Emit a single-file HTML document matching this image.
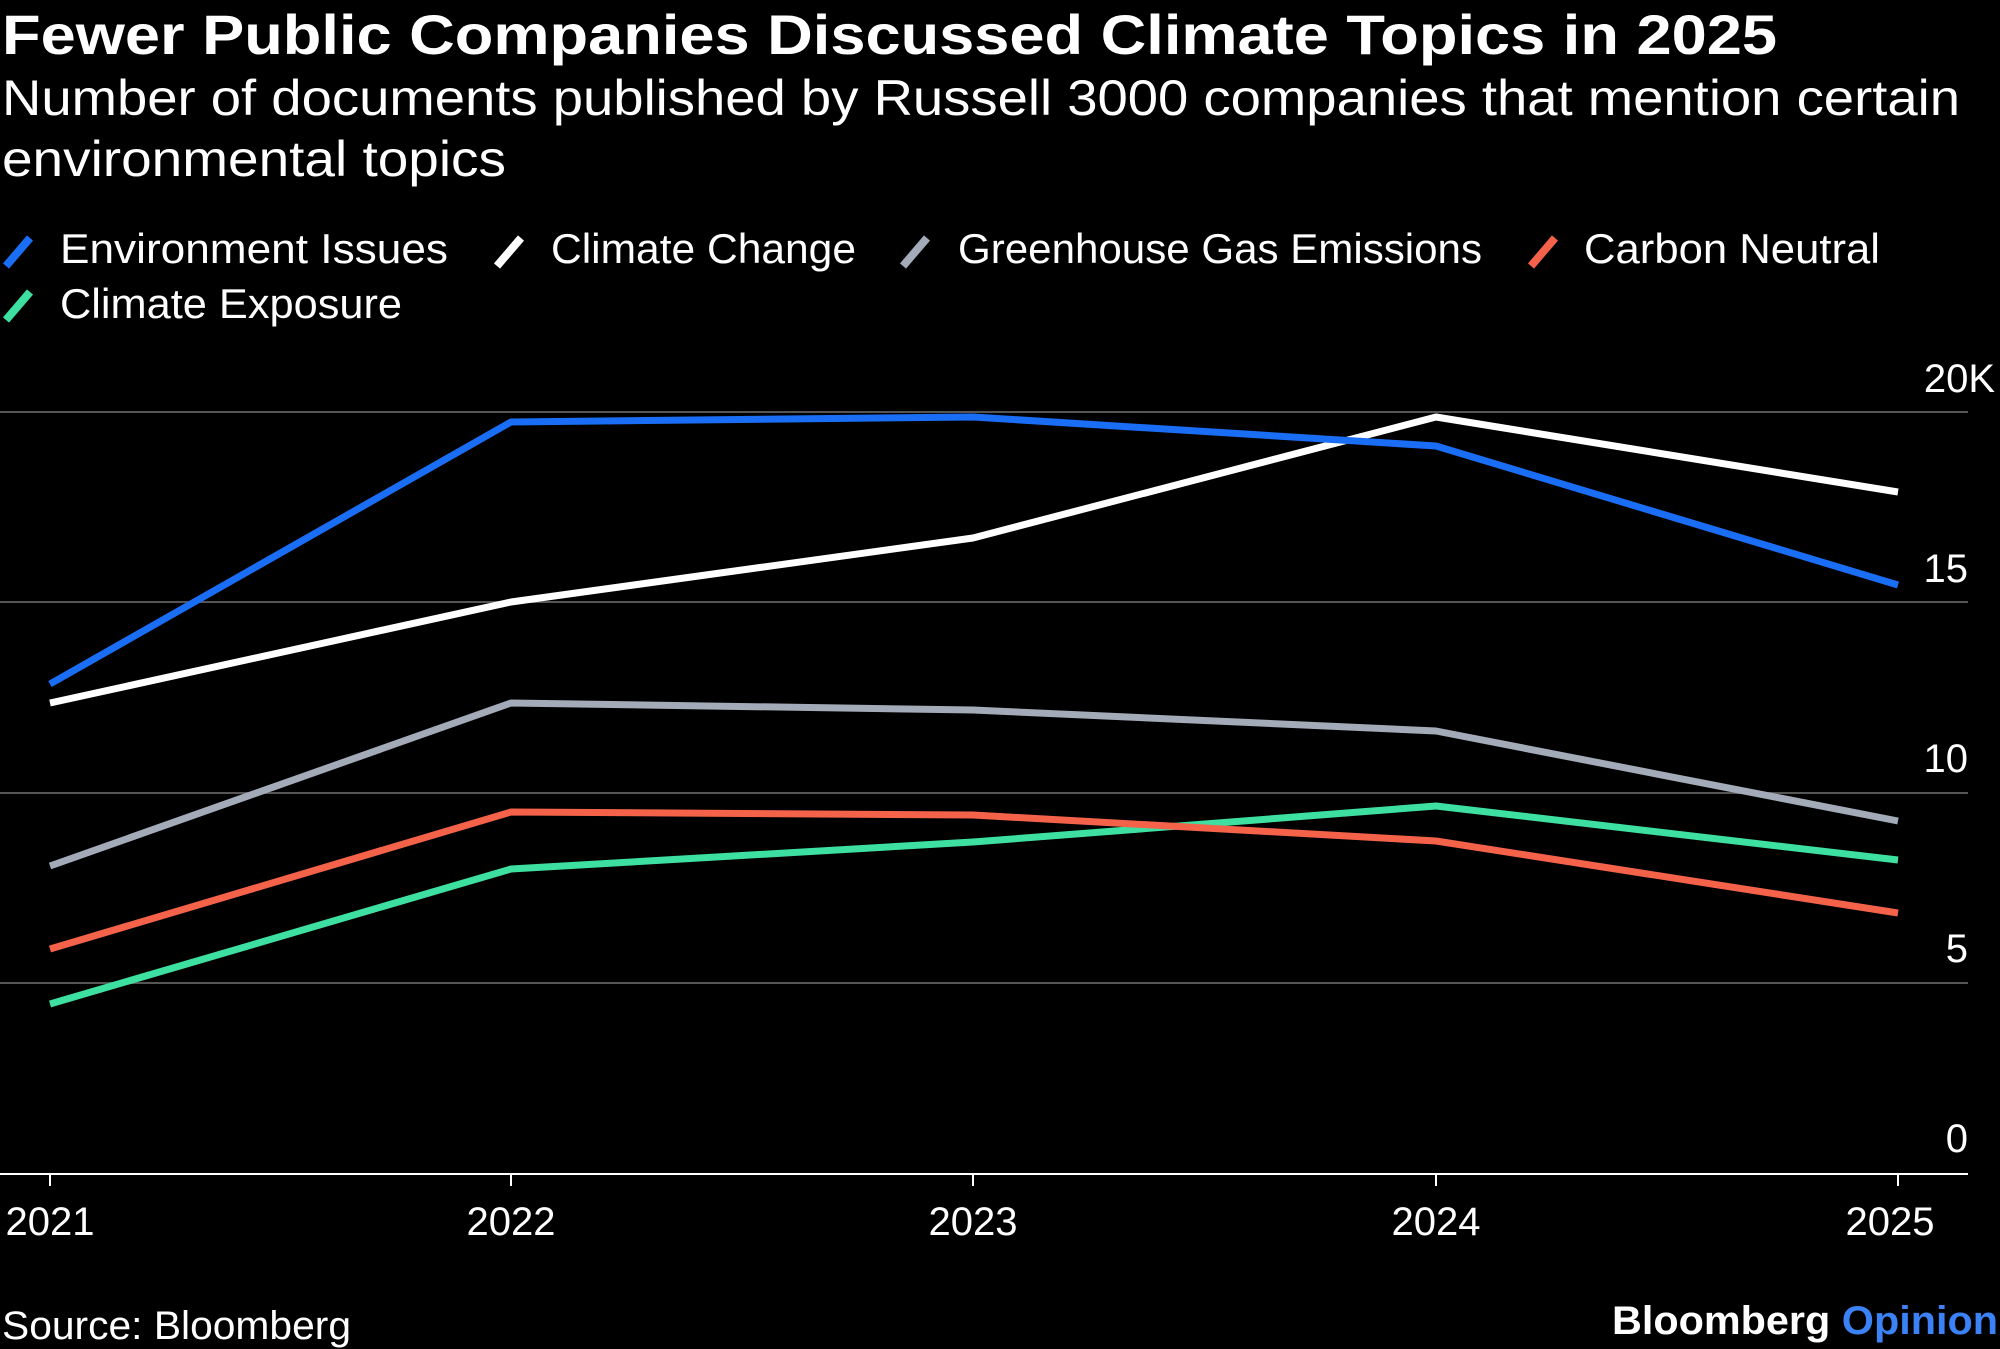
<!DOCTYPE html>
<html><head><meta charset="utf-8"><style>
html,body{margin:0;padding:0;background:#000;}
svg{display:block}
text{font-family:"Liberation Sans",sans-serif;fill:#fff}
</style></head><body>
<svg width="2000" height="1349" viewBox="0 0 2000 1349" xmlns="http://www.w3.org/2000/svg">
<rect width="2000" height="1349" fill="#000"/>
<text x="2" y="54" font-size="56" font-weight="bold" textLength="1775" lengthAdjust="spacingAndGlyphs">Fewer Public Companies Discussed Climate Topics in 2025</text>
<text x="2" y="115" font-size="50" textLength="1958" lengthAdjust="spacingAndGlyphs">Number of documents published by Russell 3000 companies that mention certain</text>
<text x="2" y="176" font-size="50" textLength="504" lengthAdjust="spacingAndGlyphs">environmental topics</text>
<g stroke-width="8" stroke-linecap="butt">
<line x1="6" y1="266" x2="30" y2="238" stroke="#1a6ef5"/>
<line x1="497" y1="266" x2="521" y2="238" stroke="#fff"/>
<line x1="903" y1="266" x2="927" y2="238" stroke="#a3aab8"/>
<line x1="1531" y1="266" x2="1555" y2="238" stroke="#f4624a"/>
<line x1="6" y1="320" x2="30" y2="292" stroke="#3de0a0"/>
</g>
<g font-size="42">
<text x="60" y="263" textLength="388" lengthAdjust="spacingAndGlyphs">Environment Issues</text>
<text x="551" y="263" textLength="305" lengthAdjust="spacingAndGlyphs">Climate Change</text>
<text x="958" y="263" textLength="524" lengthAdjust="spacingAndGlyphs">Greenhouse Gas Emissions</text>
<text x="1584" y="263" textLength="296" lengthAdjust="spacingAndGlyphs">Carbon Neutral</text>
<text x="60" y="318" textLength="342" lengthAdjust="spacingAndGlyphs">Climate Exposure</text>
</g>
<g stroke="#555" stroke-width="2">
<line x1="0" y1="412" x2="1968" y2="412"/>
<line x1="0" y1="602" x2="1968" y2="602"/>
<line x1="0" y1="793" x2="1968" y2="793"/>
<line x1="0" y1="983" x2="1968" y2="983"/>
</g>
<line x1="0" y1="1174" x2="1968" y2="1174" stroke="#fff" stroke-width="2"/>
<g stroke="#fff" stroke-width="2">
<line x1="50" y1="1174" x2="50" y2="1186"/><line x1="511" y1="1174" x2="511" y2="1186"/>
<line x1="973" y1="1174" x2="973" y2="1186"/><line x1="1436" y1="1174" x2="1436" y2="1186"/>
<line x1="1898" y1="1174" x2="1898" y2="1186"/>
</g>
<g font-size="40" text-anchor="end">
<text x="1995" y="392">20K</text>
<text x="1968" y="582">15</text>
<text x="1968" y="772">10</text>
<text x="1968" y="962">5</text>
<text x="1968" y="1152">0</text>
</g>
<g font-size="40" text-anchor="middle">
<text x="50" y="1235">2021</text>
<text x="511" y="1235">2022</text>
<text x="973" y="1235">2023</text>
<text x="1436" y="1235">2024</text>
<text x="1890" y="1235">2025</text>
</g>
<g fill="none" stroke-width="7" stroke-linejoin="round">
<polyline stroke="#3de0a0" points="50,1004 511,869 973,842 1436,806 1898,860"/>
<polyline stroke="#f4624a" points="50,949 511,812 973,815 1436,841 1898,913"/>
<polyline stroke="#a3aab8" points="50,866 511,703 973,710 1436,731 1898,821"/>
<polyline stroke="#fff" points="50,703 511,602 973,538 1436,417 1898,492"/>
<polyline stroke="#1a6ef5" points="50,684 511,422 973,417 1436,446 1898,585"/>
</g>
<text x="2" y="1339" font-size="40" textLength="349" lengthAdjust="spacingAndGlyphs">Source: Bloomberg</text>
<text x="1998" y="1334" font-size="40" font-weight="bold" text-anchor="end" textLength="386" lengthAdjust="spacingAndGlyphs"><tspan>Bloomberg </tspan><tspan fill="#3b82f6">Opinion</tspan></text>
</svg>
</body></html>
